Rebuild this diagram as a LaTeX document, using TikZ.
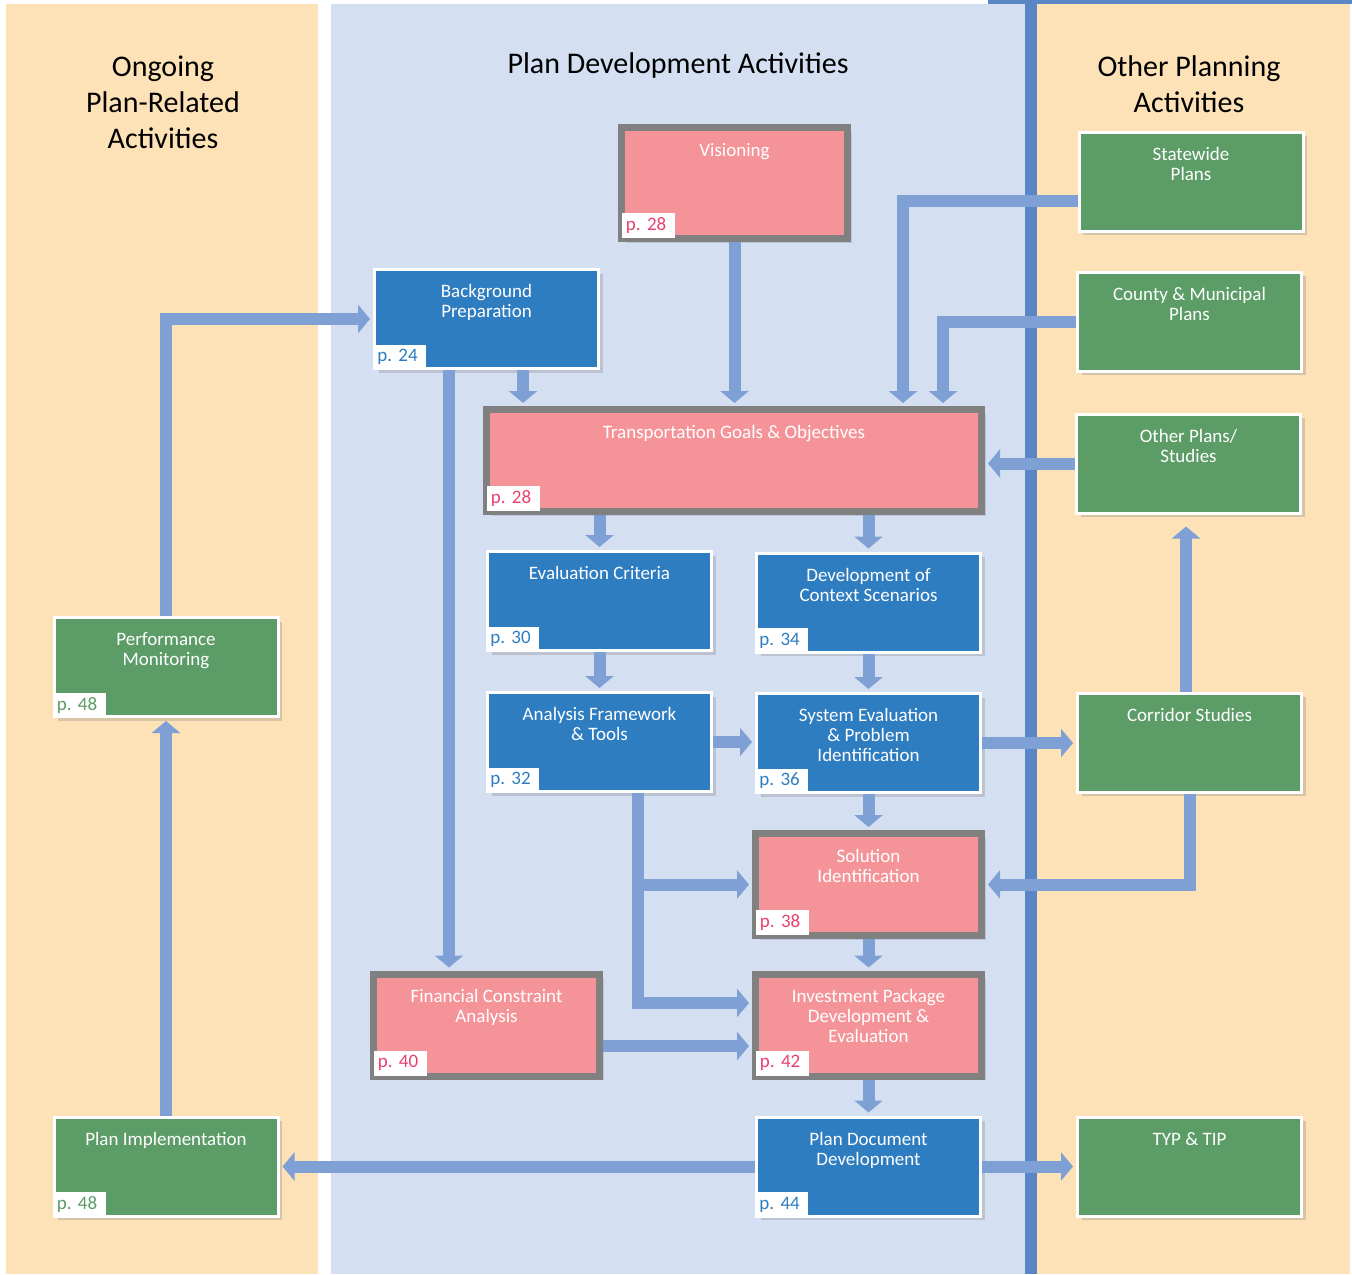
\documentclass[tikz,border=0pt]{standalone}
\usepackage{fontspec}
\setmainfont{Carlito}
\usepackage{tikz}
\usetikzlibrary{arrows.meta, shadows, calc}
\definecolor{beige}{RGB}{253,226,183}
\definecolor{panelblue}{RGB}{212,224,242}
\definecolor{divider}{RGB}{91,134,197}
\definecolor{arrowblue}{RGB}{127,160,212}
\definecolor{boxblue}{RGB}{46,125,193}
\definecolor{boxgreen}{RGB}{92,156,103}
\definecolor{boxpink}{RGB}{244,148,153}
\definecolor{boxgray}{RGB}{128,128,128}
\definecolor{pagepink}{RGB}{232,65,111}
\tikzstyle{bluebox} = [rectangle, minimum width=112pt, minimum height=49.5pt, fill=boxblue, draw=white, line width=1.5pt, drop shadow={shadow xshift=2pt, shadow yshift=-2pt, opacity=0.3}]
\tikzstyle{greenbox} = [bluebox, fill=boxgreen]
\tikzstyle{pinkbox} = [rectangle, minimum width=113pt, minimum height=51pt, fill=boxpink, draw=boxgray, line width=3.5pt, drop shadow={shadow xshift=2pt, shadow yshift=-2pt, opacity=0.25}]
\tikzstyle{boxtext} = [anchor=north, yshift=-4.75pt, text=white, align=center, font=\fontsize{9.5}{10}\selectfont]
\tikzstyle{pinktext} = [anchor=north, yshift=-6pt, text=white, align=center, font=\fontsize{9.5}{10}\selectfont]
\tikzstyle{pagetag} = [anchor=south west, fill=white, inner xsep=2pt, inner ysep=0pt, minimum height=12.5pt, text width=22.5pt, align=left, font=\fontsize{9.5}{10}\selectfont]
\tikzstyle{bluepage} = [pagetag, text=boxblue]
\tikzstyle{greenpage} = [pagetag, text=boxgreen]
\tikzstyle{pinkpage} = [pagetag, text=pagepink, xshift=1.75pt, yshift=1.75pt]
\tikzstyle{paneltitle} = [align=center, font=\fontsize{15}{18}\selectfont]
\tikzstyle{flowarrow} = [draw=arrowblue, line width=6pt, -{Triangle[width=14pt,length=6pt]}, shorten >=1.5pt]

\begin{document}
\begin{tikzpicture}[x=0.5pt, y=-0.5pt]
\useasboundingbox (0,0) rectangle (1352,1274);
\fill[beige] (6,4) rectangle (318,1274);
\fill[panelblue] (331,4) rectangle (1025,1274);
\fill[beige] (1037,4) rectangle (1350,1274);
\fill[divider] (1025,0) rectangle (1037,1274);
\fill[divider] (988,0) rectangle (1352,4);

\node[paneltitle] (ongoing) at (163,102) {Ongoing\\Plan-Related\\Activities};
\node[paneltitle] (plandev) at (678,66) {Plan Development Activities};
\node[paneltitle] (otherplan) at (1189,84) {Other Planning\\Activities};

\node[pinkbox, minimum height=55.5pt, label={[pinktext]north:Visioning}, label={[pinkpage]south west:p.\ 28}] (visioning) at (734.5,183) {};
\node[bluebox, label={[boxtext]north:Background\\Preparation}, label={[bluepage]south west:p.\ 24}] (bgprep) at (486.5,319) {};
\node[pinkbox, minimum width=247.5pt, label={[pinktext]north:Transportation Goals \& Objectives}, label={[pinkpage]south west:p.\ 28}] (goals) at (734,460.5) {};
\node[bluebox, label={[boxtext]north:Evaluation Criteria}, label={[bluepage]south west:p.\ 30}] (evalcrit) at (599.5,601) {};
\node[bluebox, label={[boxtext]north:Development of\\Context Scenarios}, label={[bluepage]south west:p.\ 34}] (devctx) at (868.5,602.5) {};
\node[bluebox, label={[boxtext]north:Analysis Framework\\\& Tools}, label={[bluepage]south west:p.\ 32}] (analysis) at (599.5,742) {};
\node[bluebox, label={[boxtext]north:System Evaluation\\\& Problem\\Identification}, label={[bluepage]south west:p.\ 36}] (syseval) at (868.5,743) {};
\node[pinkbox, label={[pinktext]north:Solution\\Identification}, label={[pinkpage]south west:p.\ 38}] (solution) at (868.5,884.5) {};
\node[pinkbox, label={[pinktext]north:Financial Constraint\\Analysis}, label={[pinkpage]south west:p.\ 40}] (financial) at (486.5,1025) {};
\node[pinkbox, label={[pinktext]north:Investment Package\\Development \&\\Evaluation}, label={[pinkpage]south west:p.\ 42}] (invest) at (868.5,1025) {};
\node[bluebox, label={[boxtext]north:Plan Document\\Development}, label={[bluepage]south west:p.\ 44}] (plandoc) at (868.5,1166.5) {};

\node[greenbox, label={[boxtext]north:Statewide\\Plans}] (statewide) at (1191,181.5) {};
\node[greenbox, label={[boxtext]north:County \& Municipal\\Plans}] (county) at (1189.5,321.5) {};
\node[greenbox, label={[boxtext]north:Other Plans/\\Studies}] (otherstudies) at (1188.5,463.5) {};
\node[greenbox, label={[boxtext]north:Corridor Studies}] (corridor) at (1189.5,742.5) {};
\node[greenbox, label={[boxtext]north:TYP \& TIP}] (typtip) at (1189.5,1166.5) {};
\node[greenbox, label={[boxtext]north:Performance\\Monitoring}, label={[greenpage]south west:p.\ 48}] (perfmon) at (166,667) {};
\node[greenbox, label={[boxtext]north:Plan Implementation}, label={[greenpage]south west:p.\ 48}] (planimpl) at (166,1166.5) {};

\coordinate (bgtap) at ([xshift=18.25pt]bgprep.south);
\coordinate (bgfin) at ([xshift=-18.75pt]bgprep.south);
\coordinate (antap) at ([xshift=19.25pt]analysis.south);
\coordinate (cortap) at ([xshift=-1.75pt]corridor.north);

\draw[flowarrow] (perfmon.north) |- (bgprep.west);
\draw[flowarrow] (planimpl.north) -- (perfmon.south);
\draw[flowarrow] (plandoc.west) -- (planimpl.east);
\draw[flowarrow] (plandoc.east) -- (typtip.west);
\draw[flowarrow] (visioning.south) -- (visioning.south |- goals.north);
\draw[flowarrow] (bgtap) -- (bgtap |- goals.north);
\draw[flowarrow] ([yshift=-9.75pt]statewide.west) -| ([xshift=84.5pt]goals.north);
\draw[flowarrow] (county.west) -| ([xshift=104.5pt]goals.north);
\draw[flowarrow] (otherstudies.west) -- (otherstudies.west -| goals.east);
\draw[flowarrow] (evalcrit.north |- goals.south) -- (evalcrit.north);
\draw[flowarrow] (devctx.north |- goals.south) -- (devctx.north);
\draw[flowarrow] (evalcrit.south) -- (analysis.north);
\draw[flowarrow] (devctx.south) -- (syseval.north);
\draw[flowarrow] (analysis.east) -- (analysis.east -| syseval.west);
\draw[flowarrow] (syseval.east) -- (syseval.east -| corridor.west);
\draw[flowarrow, shorten >=6pt] (cortap) -- (cortap |- otherstudies.south);
\draw[flowarrow] (corridor.south) |- (solution.east);
\draw[flowarrow] (syseval.south) -- (solution.north);
\draw[flowarrow] (solution.south) -- (invest.north);
\draw[flowarrow] (invest.south) -- (plandoc.north);
\draw[flowarrow] (bgfin) -- (bgfin |- financial.north);
\draw[flowarrow] (antap) |- ([yshift=11pt]invest.west);
\draw[flowarrow] (antap |- solution.west) -- (solution.west);
\draw[flowarrow] ([yshift=-10.5pt]financial.east) -- ([yshift=-10.5pt]invest.west);
\end{tikzpicture}
\end{document}
